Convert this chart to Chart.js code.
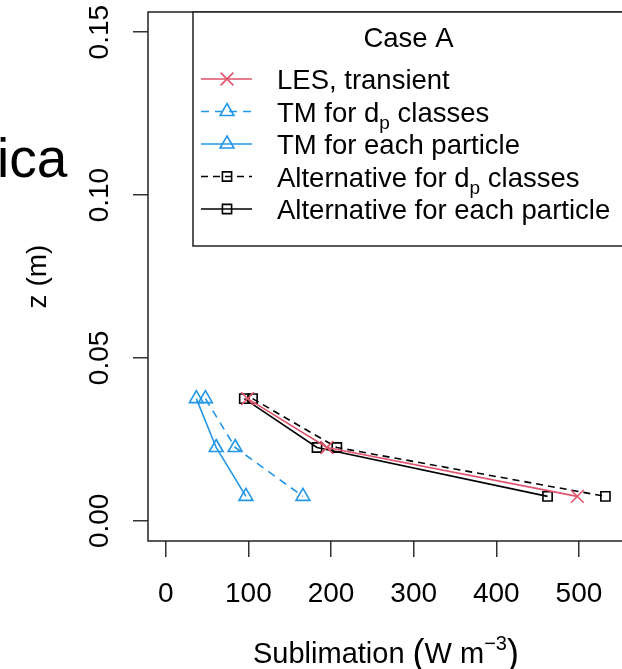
<!DOCTYPE html>
<html><head><meta charset="utf-8">
<script src="https://cdn.jsdelivr.net/npm/chart.js@4.4.0/dist/chart.umd.min.js"></script>
<style>html,body{margin:0;padding:0;overflow:hidden;background:#fff;width:622px;height:669px}
#wrap{position:relative;width:640px;height:669px}</style>
</head><body><div id="wrap"><canvas id="c" width="640" height="669"></canvas></div>
<script>
const heights = [0.0375, 0.0225, 0.0075];
const lesTransient = [99, 195, 498];
const tmClasses = [48, 84, 166];
const tmParticle = [37, 61, 97];
const altClasses = [105, 207, 532];
const altParticle = [95, 183, 462];
const xTicks = [0, 100, 200, 300, 400, 500];
const xTickLabels = ['0', '100', '200', '300', '400', '500'];
const yTicks = [0, 0.05, 0.10, 0.15];
const yTickLabels = ['0.00', '0.05', '0.10', '0.15'];
const legendTitle = 'Case A';
const seriesNames = [
  ['LES, transient'],
  ['TM for d', 'p', ' classes'],
  ['TM for each particle'],
  ['Alternative for d', 'p', ' classes'],
  ['Alternative for each particle']
];
const RED = '#DF536B', BLUE = '#2297E6', BLACK = '#000000';
const FONT = '"Liberation Sans", Arial, Helvetica, sans-serif';

function pts(xs) { return xs.map((x, i) => ({ x: x, y: heights[i] })); }

const styles = [
  { color: RED, dash: [], point: 'crossRot', r: 9 },
  { color: BLUE, dash: [8, 6], point: 'triangle', r: 8 },
  { color: BLUE, dash: [], point: 'triangle', r: 8 },
  { color: BLACK, dash: [7, 5], point: 'rect', r: 6.5 },
  { color: BLACK, dash: [], point: 'rect', r: 6.5 }
];
const seriesData = [lesTransient, tmClasses, tmParticle, altClasses, altParticle];

const datasets = seriesData.map((d, i) => ({
  label: seriesNames[i].join(''),
  data: pts(d),
  showLine: true,
  borderColor: styles[i].color,
  borderWidth: 1.6,
  borderDash: styles[i].dash,
  pointStyle: styles[i].point,
  pointRadius: styles[i].r,
  pointBorderWidth: 1.6,
  pointBorderColor: styles[i].color,
  pointBackgroundColor: 'rgba(0,0,0,0)',
  tension: 0
}));

function drawMarker(ctx, style, x, y) {
  ctx.fillStyle = 'rgba(0,0,0,0)';
  ctx.strokeStyle = style.color;
  ctx.lineWidth = 1.6;
  Chart.helpers.drawPoint(ctx, { pointStyle: style.point, radius: style.r, borderWidth: 1.6 }, x, y);
}

const deco = {
  id: 'deco',
  afterDraw(chart) {
    const ctx = chart.ctx;
    const a = chart.chartArea;
    const xs = chart.scales.x, ys = chart.scales.y;
    ctx.save();
    // box
    ctx.strokeStyle = '#222';
    ctx.lineWidth = 1.5;
    ctx.strokeRect(a.left, a.top, a.right - a.left, a.bottom - a.top);
    ctx.fillStyle = '#000';
    // x tick labels
    ctx.font = '28px ' + FONT;
    ctx.textAlign = 'center';
    ctx.textBaseline = 'alphabetic';
    xTicks.forEach((v, i) => ctx.fillText(xTickLabels[i], xs.getPixelForValue(v), 602));
    // y tick labels
    yTicks.forEach((v, i) => {
      ctx.save();
      ctx.translate(108, ys.getPixelForValue(v));
      ctx.rotate(-Math.PI / 2);
      ctx.fillText(yTickLabels[i], 0, 0);
      ctx.restore();
    });
    // y title
    ctx.save();
    ctx.translate(46, (a.top + a.bottom) / 2);
    ctx.rotate(-Math.PI / 2);
    ctx.fillText('z (m)', 0, 0);
    ctx.restore();
    // x title with superscript
    const cx = (a.left + a.right) / 2;
    const base = 663;
    const parts = [
      { t: 'Sublimation ', f: '29px ', dy: 0 },
      { t: '(', f: '36px ', dy: 2 },
      { t: 'W m', f: '29px ', dy: 0 },
      { t: '\u22123', f: '20px ', dy: -13 },
      { t: ')', f: '36px ', dy: 2 }
    ];
    let tot = 0;
    parts.forEach(p => { ctx.font = p.f + FONT; p.w = ctx.measureText(p.t).width; tot += p.w; });
    let px = cx - tot / 2;
    ctx.textAlign = 'left';
    parts.forEach(p => { ctx.font = p.f + FONT; ctx.fillText(p.t, px, base + p.dy); px += p.w; });
    // fragment of neighbouring panel title
    ctx.font = '55px ' + FONT;
    ctx.fillText('ica', -3, 177);
    // legend
    const lx = 193, ly = a.top, lr = a.right, lb = 246;
    ctx.fillStyle = '#fff';
    ctx.fillRect(lx, ly, lr - lx, lb - ly);
    ctx.strokeStyle = '#222';
    ctx.lineWidth = 1.5;
    ctx.strokeRect(lx, ly, lr - lx, lb - ly);
    ctx.fillStyle = '#000';
    ctx.font = '27.5px ' + FONT;
    ctx.textAlign = 'center';
    ctx.fillText(legendTitle, (lx + lr) / 2, 47);
    ctx.textAlign = 'left';
    const rowY = [79, 111.5, 144, 176.5, 209];
    seriesNames.forEach((name, i) => {
      const y = rowY[i];
      const st = styles[i];
      ctx.save();
      ctx.strokeStyle = st.color;
      ctx.lineWidth = 1.6;
      ctx.setLineDash(st.dash);
      ctx.beginPath();
      ctx.moveTo(201, y);
      ctx.lineTo(252, y);
      ctx.stroke();
      ctx.setLineDash([]);
      drawMarker(ctx, st, 227, y);
      ctx.restore();
      ctx.fillStyle = '#000';
      let tx = 277;
      const by = y + 10;
      name.forEach((seg, j) => {
        const sub = (j === 1);
        ctx.font = (sub ? '19px ' : '27.5px ') + FONT;
        ctx.fillText(seg, tx, sub ? by + 7 : by);
        tx += ctx.measureText(seg).width;
      });
    });
    ctx.restore();
  }
};

new Chart(document.getElementById('c'), {
  type: 'scatter',
  data: { datasets: datasets },
  options: {
    responsive: false,
    devicePixelRatio: 1,
    animation: false,
    layout: { padding: { left: 133, top: 12, right: 16, bottom: 112 } },
    plugins: { legend: { display: false }, tooltip: { enabled: false } },
    scales: {
      x: {
        type: 'linear', min: -21.5, max: 554.5,
        afterBuildTicks: s => { s.ticks = xTicks.map(v => ({ value: v })); },
        grid: { display: true, drawOnChartArea: false, drawTicks: true, tickLength: 16, color: '#333', lineWidth: 1.5 },
        border: { display: false },
        ticks: { display: false }
      },
      y: {
        type: 'linear', min: -0.0062, max: 0.1562,
        afterBuildTicks: s => { s.ticks = yTicks.map(v => ({ value: v })); },
        grid: { display: true, drawOnChartArea: false, drawTicks: true, tickLength: 15, color: '#333', lineWidth: 1.5 },
        border: { display: false },
        ticks: { display: false }
      }
    }
  },
  plugins: [deco]
});
</script></body></html>
